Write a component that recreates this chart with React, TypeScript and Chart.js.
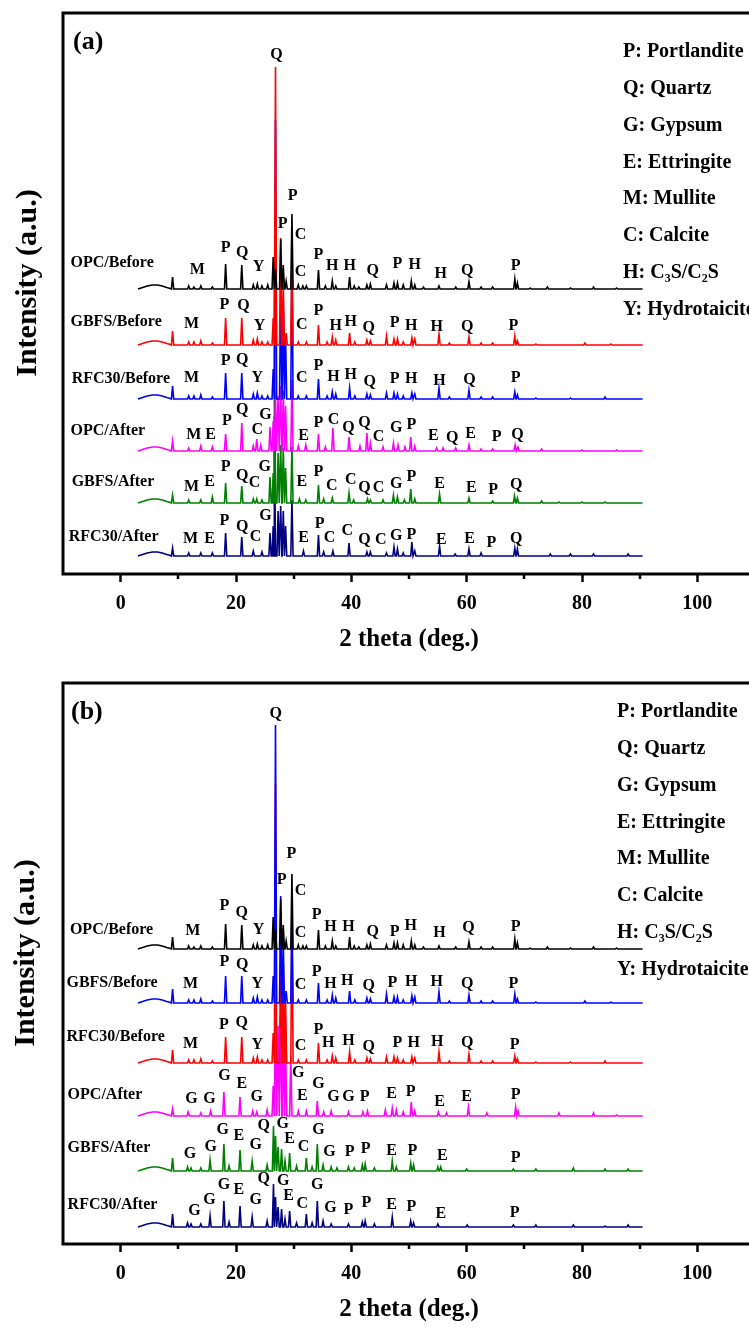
import React, { useEffect, useRef } from 'react';
import { Chart, registerables } from 'chart.js';

Chart.register(...registerables);

// ---------- axis ----------
const X_MIN = -10;
const X_MAX = 110;
const Y_MAX = 561;
const MAJOR_TICKS = [0, 20, 40, 60, 80, 100];
const MINOR_TICKS = [10, 30, 50, 70, 90];
const SCAN_START = 3.0;
const SCAN_END = 90.5;
const X_TITLE = '2 theta (deg.)';
const Y_TITLE = 'Intensity (a.u.)';

// broad amorphous hump at low angle: [2θ, rise]
const HUMP: number[][] = [[3.0, 0], [3.8, 1.5], [4.6, 3], [5.5, 4], [6.4, 4], [7.2, 3], [8.0, 1.5], [8.6, 0.5]];

const PHASE_LEGEND = [
  'P: Portlandite', 'Q: Quartz', 'G: Gypsum', 'E: Ettringite',
  'M: Mullite', 'C: Calcite', 'H: C\u2083S/C\u2082S', 'Y: Hydrotaicite',
];

// ---------- panel (a) ----------
const A_NAMES = ['OPC/Before', 'GBFS/Before', 'RFC30/Before', 'OPC/After', 'GBFS/After', 'RFC30/After'];
const A_COLORS = ['#000000', '#ff0000', '#0000ff', '#ff00ff', '#008000', '#000080'];
const A_OFFSETS = [285, 229, 175, 123, 71, 18];
const A_NAME_POS = [[-8.7, 311], [-8.7, 252], [-8.5, 195], [-8.7, 143], [-8.5, 92], [-9.0, 37]];

// peaks: [2θ, height]
const OPC_BEFORE: number[][] = [[9.0,12],[11.8,3],[12.7,2],[13.9,3],[15.9,2],[18.2,25],[21.0,24],[23.0,4],[23.7,5],[24.5,3],[25.5,4],[26.45,32],[26.85,20],[27.75,50],[28.2,24],[28.7,8],[29.7,75],[30.8,4],[31.6,3],[32.2,3],[34.3,19],[35.5,3],[36.7,8],[37.3,3],[39.7,12],[40.5,3],[41.3,2],[42.7,4],[43.3,5],[46.1,4],[47.4,6],[48.0,6],[49.0,4],[50.4,8],[51.0,4],[52.5,2],[55.2,3],[58.1,2],[60.4,7],[62.5,2],[64.5,2],[68.35,10],[68.8,6],[71.0,1],[74.0,2],[78.0,1],[82.0,2],[86.0,1]];
const GBFS_BEFORE: number[][] = [[9.0,14],[11.8,3],[12.7,3],[13.9,4],[15.9,2],[18.2,27],[21.0,27],[23.0,5],[23.7,6],[24.5,3],[25.5,3],[26.45,27],[26.85,278],[27.75,107],[28.2,60],[28.7,12],[29.7,90],[30.8,3],[32.2,3],[34.3,20],[35.8,3],[36.7,8],[37.3,5],[39.7,12],[40.6,3],[42.7,5],[43.3,4],[46.1,9],[47.4,6],[48.0,6],[49.0,3],[50.5,7],[51.0,6],[55.2,11],[57.0,2],[60.4,8],[62.5,2],[64.5,2],[68.35,9],[68.8,4],[72.0,1],[80.5,2],[85.0,1]];
const RFC30_BEFORE: number[][] = [[9.0,13],[11.8,3],[12.7,3],[13.9,4],[15.9,2],[18.2,26],[21.0,26],[23.0,5],[23.7,6],[24.5,3],[25.5,3],[26.45,30],[26.85,279],[27.75,118],[28.2,100],[28.6,60],[29.7,150],[30.8,3],[32.2,3],[34.3,20],[35.8,3],[36.7,7],[37.3,5],[39.7,11],[40.6,3],[42.7,5],[43.3,4],[46.1,6],[47.4,6],[48.0,5],[49.0,3],[50.5,6],[51.0,5],[55.2,11],[57.0,2],[60.4,9],[62.5,2],[64.5,2],[68.35,7],[68.8,4],[72.0,1],[78.0,1],[84.0,2]];
const A_OPC_AFTER: number[][] = [[9.0,10],[11.8,3],[13.9,5],[15.9,4],[18.2,17],[21.0,28],[23.0,5],[23.6,12],[24.3,6],[25.9,24],[26.45,30],[26.85,60],[27.3,55],[27.75,65],[28.2,60],[28.6,45],[29.7,71],[30.8,5],[32.1,6],[34.3,17],[35.5,4],[36.8,23],[39.6,14],[41.5,5],[42.7,18],[43.3,8],[45.5,4],[47.3,8],[48.1,6],[49.3,4],[50.3,14],[51.0,5],[54.8,3],[55.9,3],[58.1,3],[60.4,6],[62.5,2],[64.5,2],[68.4,6],[68.9,4],[73.0,2],[80.0,1],[86.0,1]];
const A_GBFS_AFTER: number[][] = [[9.0,8],[11.8,3],[13.9,3],[15.9,6],[18.2,20],[21.0,17],[23.0,4],[23.6,4],[24.5,3],[25.9,26],[26.45,30],[26.65,225],[27.3,50],[27.75,58],[28.2,55],[28.6,35],[29.7,56],[31.0,4],[32.1,3],[34.3,18],[35.2,4],[36.7,5],[39.6,10],[40.4,3],[42.8,4],[43.3,3],[45.5,3],[47.3,8],[48.0,6],[49.2,3],[50.3,14],[51.0,4],[55.3,9],[60.4,5],[64.5,2],[68.3,7],[68.8,5],[73.0,2],[76.0,1],[80.0,1],[84.0,1]];
const A_RFC30_AFTER: number[][] = [[9.0,8],[11.8,3],[13.9,3],[15.9,3],[18.2,23],[21.0,19],[23.0,5],[24.5,4],[25.9,23],[26.45,30],[26.65,140],[27.3,45],[27.75,50],[28.2,45],[28.6,30],[29.7,56],[31.7,5],[34.3,21],[35.2,4],[36.8,5],[39.6,13],[42.7,4],[43.3,4],[46.1,3],[47.4,9],[48.0,7],[49.0,3],[50.5,14],[51.0,5],[55.3,10],[58.0,2],[60.4,7],[62.5,3],[68.35,8],[68.8,7],[74.5,2],[78.0,2],[82.0,2],[88.0,2]];

// phase labels: [2θ, intensity, letter]
const A_LABELS: (number | string)[][] = [
  [27.0,519,'Q'],
  [13.3,304,'M'],[18.2,326,'P'],[21.1,321,'Q'],[23.9,307,'Y'],[28.1,350,'P'],[29.8,378,'P'],[31.2,339,'C'],[31.2,302,'C'],[34.3,319,'P'],[36.7,308,'H'],[39.7,308,'H'],[43.7,303,'Q'],[48.0,310,'P'],[51.0,309,'H'],[55.5,300,'H'],[60.1,303,'Q'],[68.5,308,'P'],
  [12.3,250,'M'],[18.0,269,'P'],[21.3,268,'Q'],[24.1,248,'Y'],[31.4,249,'C'],[34.3,263,'P'],[37.3,248,'H'],[39.9,252,'H'],[43.0,246,'Q'],[47.5,251,'P'],[50.4,248,'H'],[54.8,247,'H'],[60.1,247,'Q'],[68.1,248,'P'],
  [12.3,196,'M'],[18.2,213,'P'],[21.1,214,'Q'],[23.7,196,'Y'],[31.4,196,'C'],[34.3,208,'P'],[36.9,197,'H'],[39.9,199,'H'],[43.2,192,'Q'],[47.5,195,'P'],[50.4,195,'H'],[55.3,193,'H'],[60.5,194,'Q'],[68.5,196,'P'],
  [12.7,139,'M'],[15.6,139,'E'],[18.4,153,'P'],[21.1,164,'Q'],[23.7,144,'C'],[25.1,159,'G'],[31.7,138,'E'],[34.3,151,'P'],[36.9,154,'C'],[39.5,146,'Q'],[42.3,151,'Q'],[44.7,137,'C'],[47.8,146,'G'],[50.4,149,'P'],[54.2,138,'E'],[57.5,136,'Q'],[60.7,140,'E'],[65.2,137,'P'],[68.8,139,'Q'],
  [12.3,87,'M'],[15.4,92,'E'],[18.2,107,'P'],[21.1,98,'Q'],[23.2,91,'C'],[25.0,107,'G'],[31.4,92,'E'],[34.3,102,'P'],[36.6,88,'C'],[39.9,94,'C'],[42.3,86,'Q'],[44.7,86,'C'],[47.8,90,'G'],[50.4,97,'P'],[55.3,90,'E'],[60.8,86,'E'],[64.6,84,'P'],[68.6,89,'Q'],
  [12.1,35,'M'],[15.4,35,'E'],[18.0,53,'P'],[21.1,47,'Q'],[23.4,37,'C'],[25.1,58,'G'],[31.7,36,'E'],[34.5,50,'P'],[36.2,36,'C'],[39.3,43,'C'],[42.3,34,'Q'],[45.1,34,'C'],[47.8,38,'G'],[50.4,39,'P'],[55.6,34,'E'],[60.5,35,'E'],[64.3,31,'P'],[68.6,35,'Q'],
];

// ---------- panel (b) ----------
const B_NAMES = ['OPC/Before', 'GBFS/Before', 'RFC30/Before', 'OPC/After', 'GBFS/After', 'RFC30/After'];
const B_COLORS = ['#000000', '#0000ff', '#ff0000', '#ff00ff', '#008000', '#000080'];
const B_OFFSETS = [295, 241, 181, 128, 73, 17];
const B_NAME_POS = [[-8.8, 314], [-9.4, 261], [-9.4, 207], [-9.2, 149], [-9.2, 96], [-9.2, 39]];

const B_OPC_AFTER: number[][] = [[9.0,7],[11.7,4],[13.9,3],[15.6,5],[17.9,24],[20.7,19],[22.9,5],[23.6,4],[25.4,6],[26.45,30],[26.85,120],[27.3,90],[27.75,100],[28.2,90],[28.6,70],[29.5,60],[30.8,5],[32.2,5],[34.1,15],[35.2,4],[36.5,5],[39.5,4],[42.0,4],[42.8,5],[45.9,6],[47.1,8],[47.8,6],[49.0,4],[50.4,14],[51.0,5],[55.1,4],[56.5,3],[60.3,9],[63.5,3],[68.5,9],[68.9,5],[76.0,3],[82.0,3],[86.0,1]];
const B_GBFS_AFTER: number[][] = [[9.0,13],[11.6,4],[12.2,3],[13.9,3],[15.5,11],[17.9,27],[18.8,5],[20.7,21],[22.8,10],[25.4,6],[26.5,45],[26.85,35],[27.3,24],[27.9,22],[28.5,10],[29.3,18],[30.5,5],[32.2,13],[33.2,4],[34.1,27],[35.1,6],[36.5,4],[37.5,3],[39.5,4],[40.5,3],[41.9,6],[42.4,7],[44.0,3],[47.1,10],[47.8,4],[50.3,8],[50.8,6],[55.0,4],[55.5,4],[60.0,2],[68.1,2],[72.0,2],[78.5,3],[84.0,2],[88.0,2]];
const B_RFC30_AFTER: number[][] = [[9.0,13],[11.6,4],[12.2,3],[13.9,3],[15.5,11],[17.9,26],[18.8,5],[20.7,21],[22.8,10],[25.4,6],[26.5,43],[26.85,30],[27.3,20],[27.9,18],[28.5,8],[29.3,16],[30.5,4],[32.2,13],[33.2,4],[34.1,26],[35.1,6],[36.5,3],[39.5,3],[41.9,5],[42.4,6],[44.0,3],[47.1,10],[50.3,6],[50.8,4],[55.0,3],[60.1,2],[68.1,2],[72.0,2],[78.5,2],[84.0,1],[88.0,2]];

const B_LABELS: (number | string)[][] = [
  [26.9,530,'Q'],
  [12.5,313,'M'],[18.0,338,'P'],[21.0,331,'Q'],[23.9,314,'Y'],[27.9,364,'P'],[29.6,390,'P'],[31.2,353,'C'],[31.2,311,'C'],[34.0,329,'P'],[36.4,317,'H'],[39.5,317,'H'],[43.7,312,'Q'],[47.5,312,'P'],[50.3,318,'H'],[55.3,311,'H'],[60.3,316,'Q'],[68.5,317,'P'],
  [12.1,260,'M'],[18.0,282,'P'],[21.1,279,'Q'],[23.7,260,'Y'],[31.2,259,'C'],[34.0,272,'P'],[36.4,260,'H'],[39.3,263,'H'],[43.0,258,'Q'],[47.1,261,'P'],[50.4,262,'H'],[54.8,262,'H'],[60.1,260,'Q'],[68.1,260,'P'],
  [12.1,200,'M'],[17.9,219,'P'],[21.0,221,'Q'],[23.7,199,'Y'],[31.2,198,'C'],[34.3,214,'P'],[36.0,201,'H'],[39.5,203,'H'],[43.0,197,'Q'],[48.0,201,'P'],[50.8,201,'H'],[54.9,202,'H'],[60.1,201,'Q'],[68.3,199,'P'],
  [12.3,145,'G'],[15.4,145,'G'],[18.0,168,'G'],[21.0,160,'E'],[23.6,147,'G'],[30.8,171,'G'],[31.5,148,'E'],[34.3,160,'G'],[36.9,147,'G'],[39.5,147,'G'],[42.3,147,'P'],[47.0,150,'E'],[50.3,152,'P'],[55.3,142,'E'],[60.0,147,'E'],[68.5,149,'P'],
  [12.0,90,'G'],[15.6,97,'G'],[17.7,114,'G'],[20.5,108,'E'],[23.4,99,'G'],[24.8,118,'Q'],[28.1,120,'G'],[29.3,105,'E'],[31.7,97,'C'],[34.3,114,'G'],[36.2,92,'G'],[39.7,92,'P'],[42.5,95,'P'],[47.0,93,'E'],[50.6,93,'P'],[55.8,88,'E'],[68.5,86,'P'],
  [12.8,33,'G'],[15.4,44,'G'],[17.9,59,'G'],[20.5,54,'E'],[23.4,44,'G'],[24.8,65,'Q'],[28.2,63,'G'],[29.1,48,'E'],[31.5,40,'C'],[34.1,59,'G'],[36.4,36,'G'],[39.5,34,'P'],[42.6,41,'P'],[47.0,39,'E'],[50.4,37,'P'],[55.5,30,'E'],[68.3,31,'P'],
];

const A_SERIES = [OPC_BEFORE, GBFS_BEFORE, RFC30_BEFORE, A_OPC_AFTER, A_GBFS_AFTER, A_RFC30_AFTER];
const B_SERIES = [OPC_BEFORE, GBFS_BEFORE, RFC30_BEFORE, B_OPC_AFTER, B_GBFS_AFTER, B_RFC30_AFTER];

const FONT = '"Liberation Serif", "Times New Roman", serif';

function buildPattern(peaks: number[][], offset: number) {
  const pts: { x: number; y: number }[] = [];
  for (const [x, y] of HUMP) pts.push({ x, y: offset + y });
  for (const p of peaks) {
    const w = p[2] ?? 0.2;
    pts.push({ x: p[0] - w, y: offset }, { x: p[0], y: offset + p[1] }, { x: p[0] + w, y: offset });
  }
  pts.push({ x: SCAN_END, y: offset });
  pts.sort((a, b) => a.x - b.x);
  return pts.filter((p) => p.x >= SCAN_START);
}

interface PanelDef {
  tag: string;
  names: string[];
  colors: string[];
  offsets: number[];
  namePos: number[][];
  series: number[][][];
  labels: (number | string)[][];
  legendDx: number;
  legendDy: number;
  tagDx: number;
  yTitleX: number;
}

function makeChart(canvas: HTMLCanvasElement, def: PanelDef) {
  const decor = {
    id: 'decor',
    afterDatasetsDraw(chart: any) {
      const { ctx, chartArea: ca, scales } = chart;
      const xs = scales.x;
      const ys = scales.y;
      ctx.save();
      ctx.fillStyle = '#000';
      ctx.font = `bold 16px ${FONT}`;
      ctx.textAlign = 'center';
      ctx.textBaseline = 'middle';
      for (const [x, y, t] of def.labels) {
        ctx.fillText(t as string, xs.getPixelForValue(x as number), ys.getPixelForValue(y as number));
      }
      ctx.textAlign = 'left';
      def.names.forEach((n, i) => {
        ctx.fillText(n, xs.getPixelForValue(def.namePos[i][0]), ys.getPixelForValue(def.namePos[i][1]));
      });
      ctx.font = `bold 20px ${FONT}`;
      PHASE_LEGEND.forEach((t, i) => {
        ctx.fillText(t, ca.left + def.legendDx, ca.top + def.legendDy + i * 36.8);
      });
      ctx.font = `bold 26px ${FONT}`;
      ctx.fillText(def.tag, ca.left + def.tagDx, ca.top + 29);
      ctx.restore();
    },
    afterDraw(chart: any) {
      const { ctx, chartArea: ca, scales } = chart;
      const xs = scales.x;
      ctx.save();
      ctx.strokeStyle = '#000';
      ctx.lineWidth = 3;
      ctx.strokeRect(ca.left, ca.top, ca.right - ca.left, ca.bottom - ca.top);
      ctx.lineWidth = 2.5;
      for (const v of MINOR_TICKS) {
        const px = Math.round(xs.getPixelForValue(v));
        ctx.beginPath();
        ctx.moveTo(px, ca.bottom);
        ctx.lineTo(px, ca.bottom + 5);
        ctx.stroke();
      }
      ctx.fillStyle = '#000';
      ctx.font = `bold 30px ${FONT}`;
      ctx.textAlign = 'center';
      ctx.textBaseline = 'middle';
      ctx.translate(def.yTitleX, ca.top + 270);
      ctx.rotate(-Math.PI / 2);
      ctx.fillText(Y_TITLE, 0, 0);
      ctx.restore();
    },
  };

  return new Chart(canvas, {
    type: 'line',
    data: {
      datasets: def.series.map((s, i) => ({
        label: def.names[i],
        data: buildPattern(s, def.offsets[i]),
        borderColor: def.colors[i],
        borderWidth: 1.6,
        pointRadius: 0,
        fill: false,
        tension: 0,
      })),
    },
    options: {
      responsive: false,
      animation: false,
      devicePixelRatio: 1,
      parsing: false,
      normalized: true,
      layout: { padding: { left: 63, top: 13, right: 45, bottom: 0 } },
      plugins: { legend: { display: false }, tooltip: { enabled: false } },
      scales: {
        x: {
          type: 'linear',
          min: X_MIN,
          max: X_MAX,
          afterFit: (s: any) => { s.height = 96; },
          ticks: {
            stepSize: 10,
            autoSkip: false,
            maxRotation: 0,
            padding: 10,
            color: '#000',
            font: { family: FONT, size: 20, weight: 'bold' },
            callback: (v: any) => (MAJOR_TICKS.includes(Number(v)) ? String(v) : ''),
          },
          grid: {
            drawOnChartArea: false,
            drawTicks: true,
            tickLength: 8,
            tickWidth: 2.5,
            tickColor: (c: any) => (c.tick && MAJOR_TICKS.includes(c.tick.value) ? '#000' : 'rgba(0,0,0,0)'),
          },
          border: { display: false },
          title: {
            display: true,
            text: X_TITLE,
            color: '#000',
            font: { family: FONT, size: 25, weight: 'bold' },
            padding: { top: 0, bottom: 15 },
          },
        },
        y: { type: 'linear', display: false, min: 0, max: Y_MAX },
      },
    } as any,
    plugins: [decor],
  });
}

const PANEL_A: PanelDef = {
  tag: '(a)', names: A_NAMES, colors: A_COLORS, offsets: A_OFFSETS, namePos: A_NAME_POS,
  series: A_SERIES, labels: A_LABELS, legendDx: 560, legendDy: 39, tagDx: 10, yTitleX: 28,
};
const PANEL_B: PanelDef = {
  tag: '(b)', names: B_NAMES, colors: B_COLORS, offsets: B_OFFSETS, namePos: B_NAME_POS,
  series: B_SERIES, labels: B_LABELS, legendDx: 554, legendDy: 29, tagDx: 8, yTitleX: 26,
};

function Panel({ def, top }: { def: PanelDef; top: number }) {
  const ref = useRef<HTMLCanvasElement | null>(null);
  useEffect(() => {
    if (!ref.current) return;
    const chart = makeChart(ref.current, def);
    return () => chart.destroy();
  }, [def]);
  return (
    <canvas
      ref={ref}
      width={800}
      height={670}
      style={{ position: 'absolute', left: 0, top, width: 800, height: 670 }}
    />
  );
}

export default function App() {
  return (
    <div style={{ position: 'absolute', left: 0, top: 0, width: 749, height: 1329, overflow: 'hidden', background: '#fff' }}>
      <Panel def={PANEL_A} top={0} />
      <Panel def={PANEL_B} top={670} />
    </div>
  );
}
